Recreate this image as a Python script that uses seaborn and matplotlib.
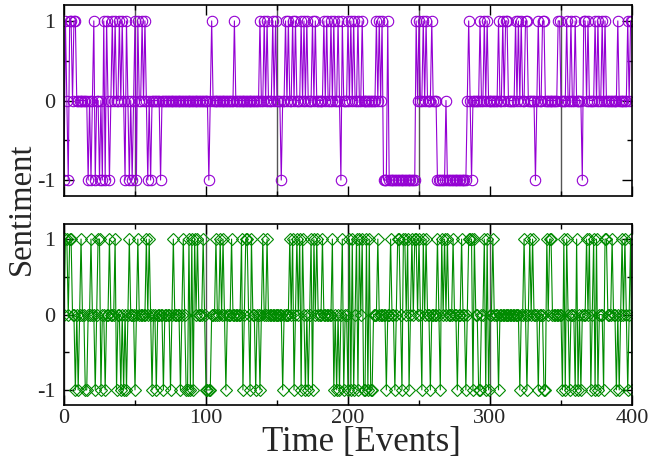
import numpy as np
import pandas as pd
import matplotlib
matplotlib.use("Agg")
import matplotlib.pyplot as plt
import seaborn as sns

# events 0..400, value is 0 unless listed below
n_events = 401

# top series (purple): events at +1 / -1
top_pos = [1, 4, 5, 7, 8, 21, 28, 30, 34, 36, 39, 41, 44, 50, 52, 55, 57, 104, 120,
           138, 141, 143, 147, 149, 156, 158, 161, 163, 167, 169, 171, 175, 177,
           183, 185, 188, 190, 193, 196, 200, 202, 204, 207, 210, 220, 222, 224, 228,
           248, 250, 253, 255, 259, 285, 293, 296, 298, 306, 309, 311, 312, 318, 320,
           322, 325, 326, 334, 337, 338, 348, 349, 354, 357, 360, 366, 367, 369, 374,
           376, 379, 381, 390, 397, 399, 400]
top_neg = [0, 3, 17, 19, 22, 25, 27, 29, 32, 43, 46, 48, 51, 59, 61, 68, 102, 153,
           195, 287, 332, 365]
top_neg_runs = [(225, 227), (229, 247), (263, 268), (270, 283)]

# bottom series (green)
bot_pos = [1, 2, 4, 5, 12, 19, 24, 25, 32, 36, 46, 52, 58, 60, 77, 84, 88, 90, 92, 94,
           98, 107, 110, 112, 118, 125, 128, 129, 132, 140, 143, 159, 161, 164, 166,
           168, 174, 176, 178, 182, 189, 196, 201, 203, 206, 208, 210, 213, 215, 221,
           230, 235, 236, 239, 240, 242, 245, 247, 248, 250, 253, 255, 263, 266, 268,
           270, 274, 280, 285, 286, 287, 289, 296, 298, 302, 324, 328, 330, 340, 342,
           343, 352, 354, 361, 368, 370, 373, 375, 381, 382, 386, 393, 395, 399]
bot_neg = [8, 10, 15, 16, 22, 26, 29, 37, 40, 42, 44, 50, 62, 65, 70, 75, 82, 86, 87,
           89, 91, 100, 101, 102, 103, 114, 126, 131, 135, 138, 154, 162, 167, 170,
           172, 175, 190, 192, 194, 197, 200, 202, 204, 207, 211, 212, 214, 216, 217,
           227, 233, 238, 243, 252, 258, 265, 277, 283, 288, 292, 293, 297, 299, 306,
           321, 326, 334, 338, 339, 351, 353, 356, 360, 362, 364, 371, 374, 376, 380,
           389, 391, 397, 400]

t = np.arange(n_events)
top = np.zeros(n_events, dtype=int)
top[top_pos] = 1
top[top_neg] = -1
for a, b in top_neg_runs:
    top[a:b + 1] = -1
bot = np.zeros(n_events, dtype=int)
bot[bot_pos] = 1
bot[bot_neg] = -1

df = pd.DataFrame({"time": t, "top": top, "bottom": bot})

sns.set_style("ticks")
plt.rcParams["font.family"] = ["Liberation Serif", "DejaVu Serif"]
plt.rcParams["axes.unicode_minus"] = False

purple = "#9400D3"
green = "#008B00"

fig = plt.figure(figsize=(6.51, 4.66), dpi=100)
ax1 = fig.add_axes([64 / 651, 1 - 196 / 466, 568 / 651, 191 / 466])
ax2 = fig.add_axes([64 / 651, 1 - 405 / 466, 568 / 651, 181 / 466])

sns.lineplot(data=df, x="time", y="top", ax=ax1, color=purple, linewidth=0.8,
             marker="o", markersize=7.5, markerfacecolor="none",
             markeredgecolor=purple, markeredgewidth=0.8)
sns.lineplot(data=df, x="time", y="bottom", ax=ax2, color=green, linewidth=0.8,
             marker="D", markersize=6, markerfacecolor="none",
             markeredgecolor=green, markeredgewidth=0.8)

for ax in (ax1, ax2):
    ax.set_xlim(0, 400)
    ax.set_ylim(-1.2, 1.2)
    ax.set_xticks([0, 100, 200, 300, 400])
    ax.set_xticks([50, 150, 250, 350], minor=True)
    ax.set_yticks([-1, 0, 1])
    ax.set_yticklabels(["-1", "0", "1"])
    ax.set_yticks([-0.5, 0.5], minor=True)
    ax.tick_params(which="both", direction="in", top=True, right=True,
                   labelsize=16, width=1, color="black")
    ax.tick_params(which="major", length=7, pad=6)
    ax.tick_params(which="minor", length=3.5)
    ax.set_xlabel("")
    ax.set_ylabel("")
    for s in ax.spines.values():
        s.set_linewidth(1.2)
        s.set_color("black")

ax1.grid(True, which="minor", axis="x", color="#555555", linewidth=1)
ax1.tick_params(axis="x", labelbottom=False)
ax2.grid(True, which="major", axis="x", color="#555555", linewidth=1)
ax2.tick_params(axis="x", pad=3)

fig.text(22 / 651, 1 - 209 / 466, "Sentiment", rotation=90, ha="center",
         va="center", fontsize=23.5)
fig.text(361 / 651, 1 - 443 / 466, "Time [Events]", ha="center", va="center",
         fontsize=25)

fig.savefig("out.png", dpi=100)
